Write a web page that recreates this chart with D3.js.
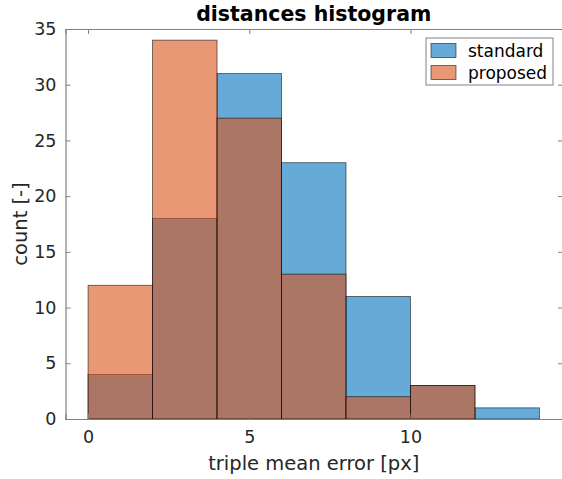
<!DOCTYPE html>
<html>
<head>
<meta charset="utf-8">
<script src="https://cdn.jsdelivr.net/npm/d3@7"></script>
<style>
  body { margin: 0; background: #fff; }
  svg { font-family: "DejaVu Sans", sans-serif; }
</style>
</head>
<body>
<svg id="chart" width="562" height="479"></svg>
<script>
// histogram bins (edges) and counts
const binEdges = [0, 2, 4, 6, 8, 10, 12, 14];
const standardCounts = [4, 18, 31, 23, 11, 3, 1];
const proposedCounts = [12, 34, 27, 13, 2, 3, 0];
const seriesNames = ['standard', 'proposed'];
const xTicks = [0, 5, 10];
const yTicks = [0, 5, 10, 15, 20, 25, 30, 35];

const svg = d3.select('#chart');
const margin = {top: 29, right: 0, bottom: 60, left: 65.5};
const width = 562 - margin.left - margin.right,
  height = 479 - margin.top - margin.bottom;

const x = d3.scaleLinear().domain([-0.7, 14.7]).range([0, width]);
const y = d3.scaleLinear().domain([0, 35]).range([height, 0]);

const g = svg.append('g')
  .attr('transform', 'translate(' + margin.left + ',' + margin.top + ')');

const colors = ['#0072BD', '#D95319'];

function bins(counts) {
  return counts.map((c, i) => ({x0: binEdges[i], x1: binEdges[i + 1], c: c}));
}

[standardCounts, proposedCounts].forEach((counts, k) => {
  g.append('g')
    .selectAll('rect')
    .data(bins(counts).filter(d => d.c > 0))
    .join('rect')
      .attr('x', d => x(d.x0))
      .attr('width', d => x(d.x1) - x(d.x0))
      .attr('y', d => y(d.c))
      .attr('height', d => y(0) - y(d.c))
      .attr('fill', colors[k])
      .attr('fill-opacity', 0.6)
      .attr('stroke', '#000')
      .attr('stroke-opacity', 0.65)
      .attr('stroke-width', 0.8);
});

// axes (MATLAB style: ticks inside; right edge falls on the image border)
const axisColor = '#808080';
const tickLen = 5;

const xAxis = g.append('g')
  .attr('transform', 'translate(0,' + height + ')')
  .call(d3.axisBottom(x).tickValues(xTicks).tickSize(-tickLen).tickPadding(12));
const yAxis = g.append('g')
  .call(d3.axisLeft(y).tickValues(yTicks).tickSize(-tickLen).tickPadding(9));

const xTop = g.append('g')
  .call(d3.axisTop(x).tickValues(xTicks).tickSize(-tickLen).tickFormat(''));
const yRight = g.append('g')
  .attr('transform', 'translate(' + (width + 1) + ',0)')
  .call(d3.axisRight(y).tickValues(yTicks).tickSize(-tickLen).tickFormat(''));
yRight.select('.domain').remove();

[xAxis, yAxis, xTop, yRight].forEach(a => {
  a.select('.domain').attr('stroke', axisColor).attr('stroke-width', 1.2);
  a.selectAll('.tick line').attr('stroke', axisColor);
  a.selectAll('.tick text')
    .attr('fill', '#262626')
    .style('font-size', '17.5px')
    .style('font-family', '"DejaVu Sans", sans-serif');
});

// labels
svg.append('text')
  .attr('x', margin.left + width / 2).attr('y', 21)
  .attr('text-anchor', 'middle')
  .style('font-size', '20.5px')
  .style('font-weight', 'bold')
  .attr('fill', '#000')
  .text('distances histogram');

svg.append('text')
  .attr('x', margin.left + width / 2).attr('y', 470)
  .attr('text-anchor', 'middle')
  .style('font-size', '19.5px')
  .attr('fill', '#262626')
  .text('triple mean error [px]');

svg.append('text')
  .attr('transform', 'translate(27,' + (margin.top + height / 2) + ') rotate(-90)')
  .attr('text-anchor', 'middle')
  .style('font-size', '19.5px')
  .attr('fill', '#262626')
  .text('count [-]');

// legend
const legend = svg.append('g').attr('transform', 'translate(426,38)');
legend.append('rect')
  .attr('width', 127).attr('height', 47)
  .attr('fill', '#fff')
  .attr('stroke', '#808080');
seriesNames.forEach((name, i) => {
  const row = legend.append('g').attr('transform', 'translate(0,' + (i * 22) + ')');
  row.append('rect')
    .attr('x', 5).attr('y', 5.5)
    .attr('width', 25).attr('height', 14)
    .attr('fill', colors[i]).attr('fill-opacity', 0.6)
    .attr('stroke', '#000').attr('stroke-opacity', 0.65).attr('stroke-width', 0.8);
  row.append('text')
    .attr('x', 42).attr('y', 19)
    .style('font-size', '17px')
    .attr('fill', '#000')
    .text(name);
});
</script>
</body>
</html>
